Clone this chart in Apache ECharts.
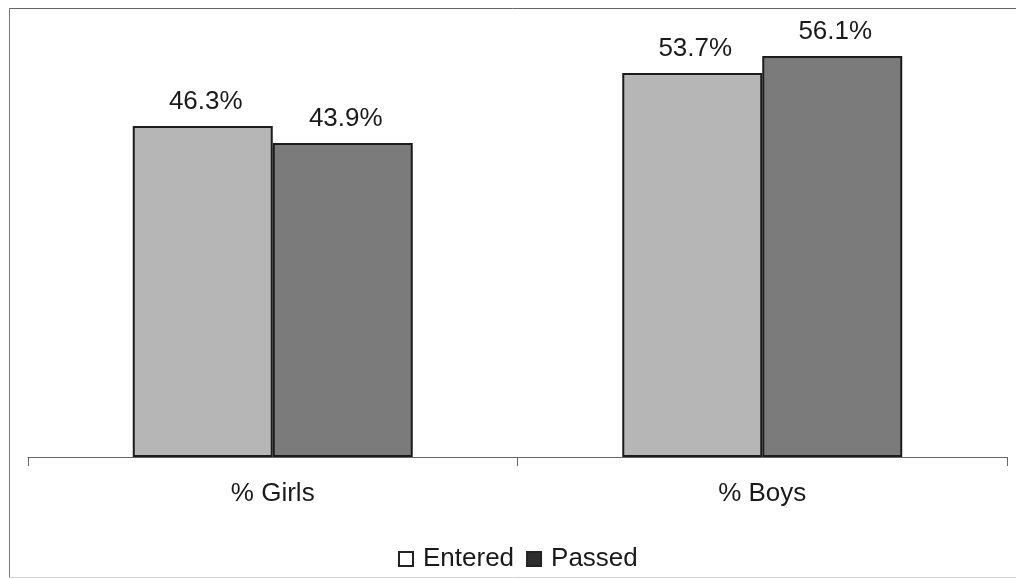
<!DOCTYPE html>
<html>
<head>
<meta charset="utf-8">
<style>
  html, body { margin: 0; padding: 0; background: #fff; }
  #chart { width: 1016px; height: 579px; }
</style>
<script src="https://cdn.jsdelivr.net/npm/echarts@6/dist/echarts.min.js"></script>
</head>
<body>
<div id="chart"></div>
<script>
// Share of girls and boys among pupils who entered and who passed
const categories = ['% Girls', '% Boys'];
const seriesNames = ['Entered', 'Passed'];
const enteredValues = [46.3, 53.7];
const passedValues = [43.9, 56.1];

const FONT = '"Liberation Sans", Arial, Helvetica, sans-serif';
const TEXT = '#1a1a1a';

const chart = echarts.init(document.getElementById('chart'), null, { renderer: 'canvas' });

const barLabel = {
  show: true,
  position: 'top',
  distance: 11,
  offset: [3, 0],
  formatter: p => p.value.toFixed(1) + '%',
  fontFamily: FONT,
  fontSize: 26,
  color: TEXT
};

chart.setOption({
  animation: false,
  backgroundColor: '#fff',
  graphic: [
    // chart frame: top, left and a faint bottom edge
    { type: 'line', shape: { x1: 9, y1: 8.5, x2: 1016, y2: 8.5 }, style: { stroke: '#666', lineWidth: 1 }, silent: true },
    { type: 'line', shape: { x1: 9.5, y1: 8, x2: 9.5, y2: 578 }, style: { stroke: '#777', lineWidth: 1 }, silent: true },
    { type: 'line', shape: { x1: 9, y1: 577.5, x2: 1016, y2: 577.5 }, style: { stroke: '#d4d4d4', lineWidth: 1 }, silent: true }
  ],
  grid: { left: 28, right: 9, top: 28, bottom: 122 },
  legend: {
    left: 393,
    top: 541,
    itemWidth: 14,
    itemHeight: 14,
    itemGap: 12,
    icon: 'rect',
    textStyle: { fontFamily: FONT, fontSize: 26, color: TEXT, padding: [0, 0, 0, 5] },
    data: [
      { name: seriesNames[0], itemStyle: { color: '#fff', borderColor: '#222', borderWidth: 2 } },
      { name: seriesNames[1], itemStyle: { color: '#2e2e2e', borderColor: '#222', borderWidth: 2 } }
    ]
  },
  xAxis: {
    type: 'category',
    data: categories,
    axisLine: { show: true, lineStyle: { color: '#666', width: 1 } },
    axisTick: { show: true, length: 9, lineStyle: { color: '#666' } },
    axisLabel: { fontFamily: FONT, fontSize: 26, color: TEXT, margin: 24 }
  },
  yAxis: {
    type: 'value',
    min: 0,
    max: 60,
    interval: 10,
    show: false,
    splitLine: { show: false }
  },
  series: [
    {
      name: seriesNames[0],
      type: 'bar',
      data: enteredValues,
      barWidth: '28.6%',
      barGap: '0%',
      itemStyle: { color: '#b6b6b6', borderColor: '#1c1c1c', borderWidth: 2 },
      label: barLabel
    },
    {
      name: seriesNames[1],
      type: 'bar',
      data: passedValues,
      barWidth: '28.6%',
      itemStyle: { color: '#7b7b7b', borderColor: '#1c1c1c', borderWidth: 2 },
      label: barLabel
    }
  ]
});
</script>
</body>
</html>
